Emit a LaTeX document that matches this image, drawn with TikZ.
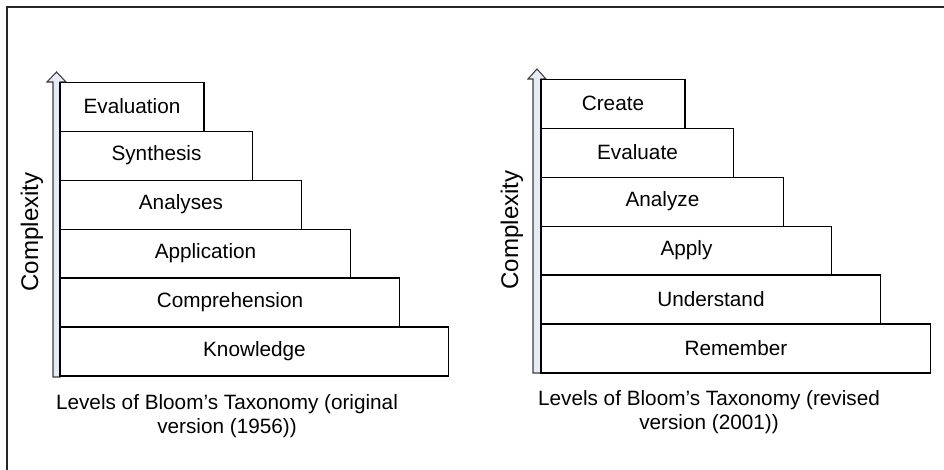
\documentclass[tikz,border=0pt]{standalone}
\usepackage{fontspec}
\setmainfont{Liberation Sans}
\usetikzlibrary{positioning}
\definecolor{axisfill}{RGB}{230, 236, 246}
\definecolor{axisline}{RGB}{60, 60, 60}
\tikzset{
	level/.style={rectangle, draw=black, fill=white, line width=0.6pt, outer sep=0pt, inner sep=0pt, minimum height=0.98cm, anchor=south west, font=\fontsize{11.8}{14}\selectfont},
	axislabel/.style={rotate=90, inner sep=0pt, font=\fontsize{13.7}{16}\selectfont},
	caption/.style={align=center, inner sep=0pt, font=\fontsize{11.8}{13.5}\selectfont},
	axis/.style={draw=axisline, fill=axisfill, line width=0.6pt, line join=miter},
	frame/.style={draw=black!85, line width=0.6pt},
}
\begin{document}
\begin{tikzpicture}[x=0.02cm, y=-0.02cm]
		\useasboundingbox (0,0) rectangle (944,470);
		\draw[frame] (7,470) -- (7,7) -- (944,7);
		% original version (1956)
		\filldraw[axis] (53,377) -- (53,82) -- (47,82) -- (56.5,72) -- (66,82) -- (60,82) -- (60,377) -- cycle;
		\node[level, minimum width=7.78cm] (know) at (60,376) {Knowledge};
		\node[level, minimum width=6.80cm] (comp) at (know.north west) {Comprehension};
		\node[level, minimum width=5.82cm] (appl) at (comp.north west) {Application};
		\node[level, minimum width=4.84cm] (anal) at (appl.north west) {Analyses};
		\node[level, minimum width=3.86cm] (synth) at (anal.north west) {Synthesis};
		\node[level, minimum width=2.88cm] (eval) at (synth.north west) {Evaluation};
		\node[axislabel] (cxorig) at (32,232) {Complexity};
		\node[caption] (caporig) at (227,416) {Levels of Bloom’s Taxonomy (original\\version (1956))};
		% revised version (2001)
		\filldraw[axis] (533,373) -- (533,79) -- (528,79) -- (537,69) -- (546,79) -- (541,79) -- (541,373) -- cycle;
		\node[level, minimum width=7.80cm] (remem) at (541,373) {Remember};
		\node[level, minimum width=6.80cm] (under) at (remem.north west) {Understand};
		\node[level, minimum width=5.82cm] (apply) at (under.north west) {Apply};
		\node[level, minimum width=4.86cm] (analyze) at (apply.north west) {Analyze};
		\node[level, minimum width=3.86cm] (evaluate) at (analyze.north west) {Evaluate};
		\node[level, minimum width=2.88cm] (create) at (evaluate.north west) {Create};
		\node[axislabel] (cxrev) at (512,230) {Complexity};
		\node[caption] (caprev) at (709,412) {Levels of Bloom’s Taxonomy (revised\\version (2001))};
	\end{tikzpicture}
\end{document}
